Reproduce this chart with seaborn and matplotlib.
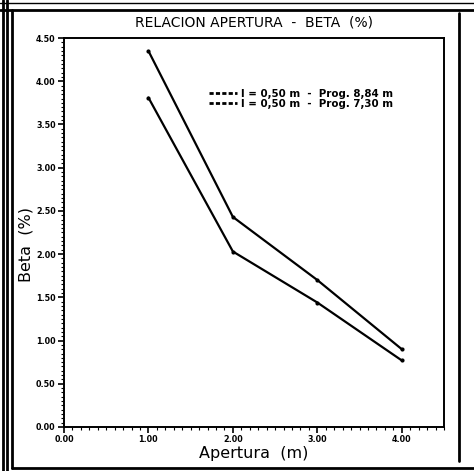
import matplotlib
matplotlib.use('Agg')
import matplotlib.pyplot as plt
from matplotlib.lines import Line2D
from matplotlib.ticker import MultipleLocator, FormatStrFormatter
import seaborn as sns
import pandas as pd

# data
apertura = [1.0, 2.0, 3.0, 4.0]
beta_884 = [4.35, 2.43, 1.70, 0.90]
beta_730 = [3.81, 2.03, 1.44, 0.77]
labels = ['l = 0,50 m  -  Prog. 8,84 m', 'l = 0,50 m  -  Prog. 7,30 m']

W, H = 474, 471


def px(x, y):
    return x / W, 1 - y / H


df = pd.concat([
    pd.DataFrame({'Apertura': apertura, 'Beta': beta_884, 'serie': labels[0]}),
    pd.DataFrame({'Apertura': apertura, 'Beta': beta_730, 'serie': labels[1]}),
])

sns.set_style('ticks')
plt.rcParams['font.family'] = ['DejaVu Sans']
plt.rcParams['text.color'] = 'black'
plt.rcParams['axes.labelcolor'] = 'black'

fig = plt.figure(figsize=(W / 100, H / 100), dpi=100)
ax = fig.add_axes([64 / W, 1 - 427 / H, (444 - 64) / W, (427 - 38) / H])

sns.lineplot(data=df, x='Apertura', y='Beta', hue='serie',
             palette=['black', 'black'], marker='o', markersize=3,
             markeredgewidth=0, linewidth=1.6, ax=ax, legend=True)

ax.set_xlim(0, 4.5)
ax.set_ylim(0, 4.5)
ax.xaxis.set_major_locator(MultipleLocator(1))
ax.xaxis.set_minor_locator(MultipleLocator(0.1))
ax.yaxis.set_major_locator(MultipleLocator(0.5))
ax.yaxis.set_minor_locator(MultipleLocator(0.05))
ax.xaxis.set_major_formatter(FormatStrFormatter('%.2f'))
ax.yaxis.set_major_formatter(FormatStrFormatter('%.2f'))
ax.tick_params(which='major', direction='out', length=4, width=1.2,
               labelsize=5.8, pad=2, colors='black')
ax.tick_params(which='minor', direction='out', length=2, width=0.8,
               colors='black')
for t in ax.get_xticklabels() + ax.get_yticklabels():
    t.set_fontweight('bold')
for s in ax.spines.values():
    s.set_linewidth(1.4)
    s.set_color('black')

ax.set_xlabel('Apertura  (m)', fontsize=11.5)
ax.xaxis.set_label_coords(0.5, -0.048)
ax.set_ylabel('Beta  (%)', fontsize=11.5)
ax.yaxis.set_label_coords(-0.08, 0.47)
ax.set_title('RELACION APERTURA  -  BETA  (%)', fontsize=10, pad=8)

leg = ax.legend(loc='upper left', bbox_to_anchor=(0.37, 0.88), frameon=False,
                fontsize=7.4, handlelength=2.8, handletextpad=0.3,
                labelspacing=0.0, borderaxespad=0)
for h in leg.get_lines():
    h.set_linestyle((0, (1.5, 0.8)))
    h.set_marker('')
    h.set_linewidth(2)
for t in leg.get_texts():
    t.set_fontweight('bold')

# scanned page frame
frame = [
    ((0, 3), (W, 3), 1.0),
    ((0, 10), (W, 10), 2.0),
    ((3, 0), (3, H), 2.0),
    ((6.5, 0), (6.5, H), 2.0),
    ((12, 10), (12, 468), 2.0),
    ((12, 468), (W, 468), 2.0),
    ((459, 13), (459, 461), 2.0),
]
for (x0, y0), (x1, y1), lw in frame:
    a, b = px(x0, y0)
    c, d = px(x1, y1)
    fig.add_artist(Line2D([a, c], [b, d], transform=fig.transFigure,
                          color='black', linewidth=lw))

fig.savefig('out.png', dpi=100)
